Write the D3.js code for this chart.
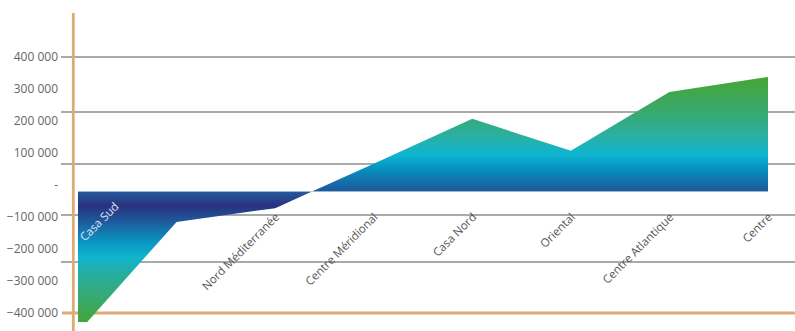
<!DOCTYPE html>
<html><head><meta charset="utf-8">
<script src="https://cdn.jsdelivr.net/npm/d3@7"></script>
<style>
html,body{margin:0;padding:0;background:#fff;}
svg{display:block;font-family:"Open Sans",sans-serif;}
</style></head>
<body>
<svg id="chart" width="795" height="331"></svg>
<script>
// ---- data ----
const categories = ["Casa Sud", "", "Nord Méditerranée", "Centre Méridional", "Casa Nord", "Oriental", "Centre Atlantique", "Centre"];
const values = [-440000, -95000, -52000, 87000, 227000, 127000, 311000, 358000];
const tickValues = [400000, 300000, 200000, 100000, 0, -100000, -200000, -300000, -400000];
const gridValues = [400000, 228000, 66000, -94000, -241000];
const baseValue = -400000;

const svg = d3.select("#chart");
const W = 795, H = 331;

const x = d3.scalePoint().domain(d3.range(categories.length)).range([78, 768]);
const yAxis = d3.scaleLinear().domain([-400000, 400000]).range([313, 57]);
const yArea = d3.scaleLinear().domain([0, 100000]).range([191.5, 159.5]);

const defs = svg.append("defs");
function grad(id, y1, y2, stops){
  const g = defs.append("linearGradient").attr("id", id)
    .attr("gradientUnits","userSpaceOnUse").attr("x1",0).attr("x2",0).attr("y1",y1).attr("y2",y2);
  stops.forEach(s => g.append("stop").attr("offset", s[0]).attr("stop-color", s[1]));
}
grad("gPos", yArea(358000), yArea(0), [
  [0,"#45a634"],[0.28,"#3aa86a"],[0.52,"#2bb0a2"],[0.68,"#0db5d0"],[0.8,"#0592bf"],[1,"#1d579a"]]);
grad("gNeg", yArea(0), 322, [
  [0,"#245a9c"],[0.11,"#29327f"],[0.24,"#1d5e9e"],[0.38,"#0a93c0"],[0.5,"#10b4cd"],[0.64,"#27ae9f"],[0.8,"#35aa74"],[1,"#43a63a"]]);

defs.append("clipPath").attr("id","cPos").append("rect")
  .attr("x",0).attr("y",0).attr("width",W).attr("height",yArea(0));
defs.append("clipPath").attr("id","cNeg").append("rect")
  .attr("x",0).attr("y",yArea(0)).attr("width",W).attr("height",322 - yArea(0));

// gridlines
svg.append("g").selectAll("line").data(gridValues).join("line")
  .attr("x1",61).attr("x2",W).attr("y1",d=>yAxis(d)).attr("y2",d=>yAxis(d))
  .attr("stroke","#8c8c8c").attr("stroke-width",1.5);

// base orange line
svg.append("line").attr("x1",62).attr("x2",W)
  .attr("y1",yAxis(baseValue)).attr("y2",yAxis(baseValue))
  .attr("stroke","#dcab76").attr("stroke-width",3);

// area
const area = d3.area().x((d,i)=>x(i)).y0(yArea(0)).y1(d=>yArea(d));
svg.append("path").datum(values).attr("d",area).attr("fill","url(#gPos)").attr("clip-path","url(#cPos)");
svg.append("path").datum(values).attr("d",area).attr("fill","url(#gNeg)").attr("clip-path","url(#cNeg)");

// vertical orange axis
svg.append("line").attr("x1",73.3).attr("x2",73.3).attr("y1",13).attr("y2",H)
  .attr("stroke","#dcab76").attr("stroke-width",2.8);

// y tick labels
svg.append("g").selectAll("text").data(tickValues).join("text")
  .attr("x",58).attr("y",d=>yAxis(d)).attr("dy","0.35em")
  .attr("text-anchor","end").attr("font-size",12).attr("fill","#666")
  .text(d => d === 0 ? "-" : d3.format(",")(d).replace(/,/g," "));

// x labels
svg.append("g").selectAll("text").data(categories).join("text")
  .attr("transform",(d,i)=> i===0 ? `translate(${x(i)+4},${239}) rotate(-45)` : `translate(${x(i)+2},${215}) rotate(-45)`)
  .attr("text-anchor",(d,i)=> i===0 ? "start" : "end")
  .attr("dy","0.35em")
  .attr("font-size",11.5)
  .attr("fill",(d,i)=> i===0 ? "#e4e4f4" : "#555")
  .text(d=>d);
</script>
</body></html>
